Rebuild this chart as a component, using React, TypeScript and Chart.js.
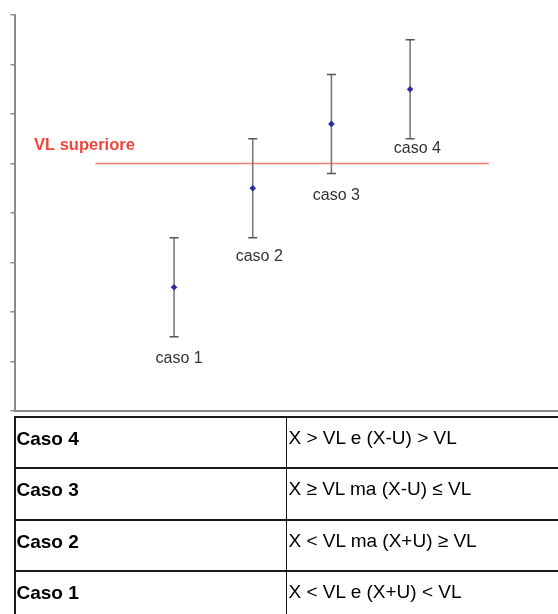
import React, { useEffect, useRef } from 'react';
import { Chart, registerables } from 'chart.js';

Chart.register(...registerables);

// ---- data ----
const categories = ['caso 1', 'caso 2', 'caso 3', 'caso 4'];
const casePositions = [1, 2, 3, 4];
const measured = [2.5, 4.5, 5.8, 6.5];
const uncertainty = [1, 1, 1, 1];
const limitLabel = 'VL superiore';
const limitValue = 5;
const limitSpan = [0, 5];
const yMin = 0;
const yMax = 8;
const yStep = 1;
const xMin = -1.028;
const xMax = 5.867;

const tableCases = ['Caso 4', 'Caso 3', 'Caso 2', 'Caso 1'];
const tableConditions = [
  'X > VL e (X-U) > VL',
  'X ≥ VL ma (X-U) ≤ VL',
  'X < VL ma (X+U) ≥ VL',
  'X < VL e (X+U) < VL',
];

// ---- label placement (pixels, relative to lower error cap) ----
const LABEL_OFFSETS: [number, number][] = [
  [5, 26],
  [6.5, 23],
  [5, 26.6],
  [7.3, 14.6],
];
const LIMIT_LABEL_OFFSET: [number, number] = [-61.4, -14];

const FONT = '"Liberation Sans", Arial, sans-serif';

const annotationPlugin = {
  id: 'caseAnnotations',
  afterDatasetsDraw(chart: any) {
    const { ctx } = chart;
    const x = chart.scales.x;
    const y = chart.scales.y;
    ctx.save();
    ctx.font = `16px ${FONT}`;
    ctx.fillStyle = '#333333';
    ctx.textAlign = 'center';
    ctx.textBaseline = 'alphabetic';
    categories.forEach((c, i) => {
      const px = x.getPixelForValue(casePositions[i]) + LABEL_OFFSETS[i][0];
      const py = y.getPixelForValue(measured[i] - uncertainty[i]) + LABEL_OFFSETS[i][1];
      ctx.fillText(c, px, py);
    });
    ctx.font = `bold 16.5px ${FONT}`;
    ctx.fillStyle = '#f0463c';
    ctx.textAlign = 'left';
    ctx.fillText(
      limitLabel,
      x.getPixelForValue(limitSpan[0]) + LIMIT_LABEL_OFFSET[0],
      y.getPixelForValue(limitValue) + LIMIT_LABEL_OFFSET[1]
    );
    ctx.restore();
  },
};

function ErrorChart() {
  const ref = useRef<HTMLCanvasElement | null>(null);
  useEffect(() => {
    if (!ref.current) return;
    const points = casePositions.map((p, i) => ({ x: p, y: measured[i] }));
    const bars: any[] = [];
    casePositions.forEach((p, i) => {
      bars.push({ x: p, y: measured[i] - uncertainty[i] });
      bars.push({ x: p, y: measured[i] + uncertainty[i] });
      bars.push({ x: p, y: null });
    });
    const limit = limitSpan.map((v) => ({ x: v, y: limitValue }));
    const chart = new Chart(ref.current, {
      type: 'scatter',
      data: {
        datasets: [
          {
            label: 'valori',
            data: points,
            pointStyle: 'rectRot',
            pointRadius: 3.3,
            pointHoverRadius: 3.3,
            backgroundColor: '#2b2b9e',
            borderColor: '#2b2b9e',
            borderWidth: 0,
          },
          {
            label: 'incertezza',
            data: bars,
            showLine: true,
            spanGaps: false,
            borderColor: '#7a7a7a',
            borderWidth: 1.6,
            pointStyle: 'line',
            pointRadius: 4.5,
            pointHoverRadius: 4.5,
            pointBorderColor: '#555555',
            pointBorderWidth: 1.5,
          } as any,
          {
            label: limitLabel,
            data: limit,
            showLine: true,
            borderColor: '#f47a70',
            borderWidth: 1.3,
            pointRadius: 0,
            pointHoverRadius: 0,
          } as any,
        ],
      },
      options: {
        responsive: false,
        animation: false,
        devicePixelRatio: 1,
        layout: { padding: { left: 10.5, top: 15, right: 0, bottom: 2 } },
        plugins: { legend: { display: false }, tooltip: { enabled: false } },
        scales: {
          x: {
            type: 'linear',
            min: xMin,
            max: xMax,
            ticks: { display: false },
            grid: { display: false, drawTicks: false },
            border: { display: true, color: '#8a8a8a', width: 2 },
          },
          y: {
            type: 'linear',
            min: yMin,
            max: yMax,
            ticks: { display: false, stepSize: yStep },
            grid: {
              drawOnChartArea: false,
              drawTicks: true,
              tickLength: 4,
              color: '#8a8a8a',
              lineWidth: 1.5,
            },
            border: { display: true, color: '#8a8a8a', width: 2 },
          },
        },
      },
      plugins: [annotationPlugin],
    });
    return () => chart.destroy();
  }, []);
  return (
    <canvas
      ref={ref}
      width={563}
      height={417}
      style={{ position: 'absolute', left: 0, top: 0, width: 563, height: 417 }}
    />
  );
}

function CaseTable() {
  const rowH = 51.3;
  return (
    <div
      style={{
        position: 'absolute',
        left: 14,
        top: 416,
        width: 620,
        borderLeft: '2px solid #1a1a1a',
        fontFamily: FONT,
        fontSize: 19,
        lineHeight: '22px',
        color: '#000',
      }}
    >
      {tableCases.map((c, i) => (
        <div
          key={c}
          style={{
            display: 'flex',
            height: rowH,
            boxSizing: 'border-box',
            borderTop: '2px solid #1a1a1a',
          }}
        >
          <div
            style={{
              width: 271,
              boxSizing: 'border-box',
              borderRight: '1.5px solid #1a1a1a',
              paddingTop: 10,
              paddingLeft: 0.5,
              fontWeight: 'bold',
            }}
          >
            {c}
          </div>
          <div style={{ paddingTop: 9, paddingLeft: 1.5 }}>{tableConditions[i]}</div>
        </div>
      ))}
    </div>
  );
}

export default function App() {
  useEffect(() => {
    document.body.style.margin = '0';
  }, []);
  return (
    <div
      style={{
        position: 'relative',
        width: 558,
        height: 614,
        overflow: 'hidden',
        background: '#fff',
      }}
    >
      <ErrorChart />
      <CaseTable />
    </div>
  );
}
